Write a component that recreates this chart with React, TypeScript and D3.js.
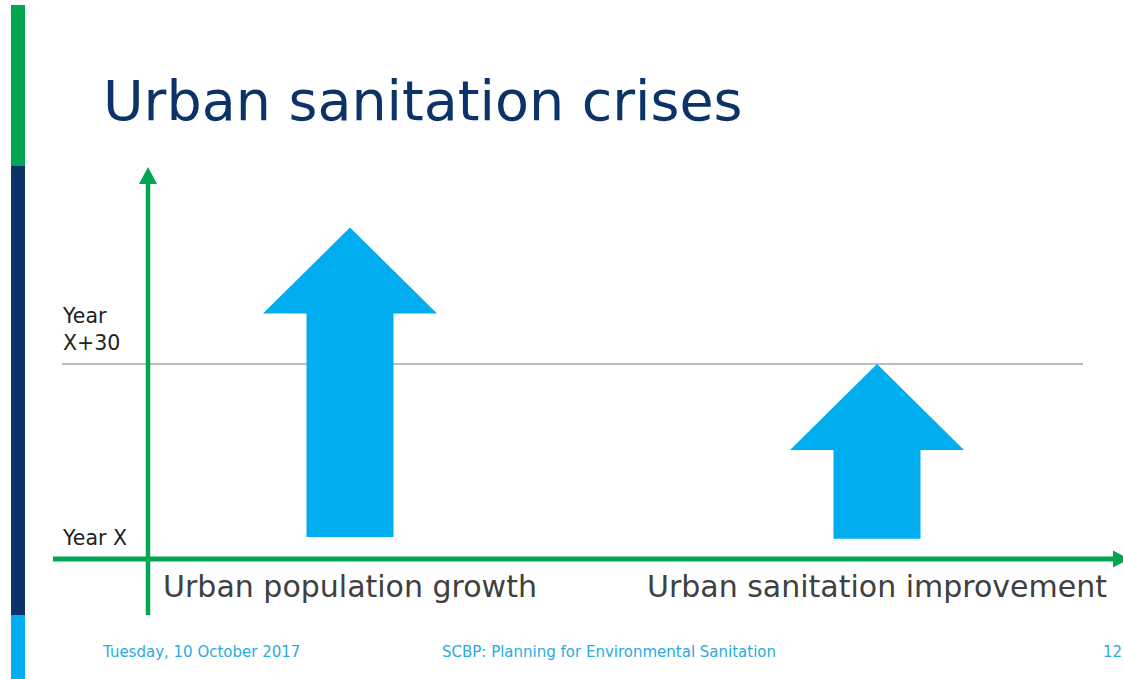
import React from "react";
import * as d3 from "d3";

// ---- data ----
const title = "Urban sanitation crises";
const categories = ["Urban population growth", "Urban sanitation improvement"];
const startValues = [3.4, 3.1]; // years after Year X where each arrow starts
const endValues = [51, 30]; // years after Year X where each arrow tip reaches
const yTickValues = [0, 30];
const yTickLabels = [["Year X"], ["Year", "X+30"]];
const footerLeft = "Tuesday, 10 October 2017";
const footerCenter = "SCBP: Planning for Environmental Sanitation";
const pageNumber = "12";

const W = 1123;
const H = 679;
const FONT = "'DejaVu Sans', Verdana, sans-serif";
const GREEN = "#00a651";
const NAVY = "#0b3368";
const BLUE = "#00aeef";

export default function App() {
  const y = d3.scaleLinear().domain([0, 30]).range([559, 364]);
  const x = d3.scalePoint<string>().domain(categories).range([350, 877]);

  const headH = 86;
  const headW = 174;
  const shaftW = 87;

  const arrowPath = (cx: number, yBottom: number, yTip: number) => {
    const p = d3.path();
    p.moveTo(cx - shaftW / 2, yBottom);
    p.lineTo(cx - shaftW / 2, yTip + headH);
    p.lineTo(cx - headW / 2, yTip + headH);
    p.lineTo(cx, yTip);
    p.lineTo(cx + headW / 2, yTip + headH);
    p.lineTo(cx + shaftW / 2, yTip + headH);
    p.lineTo(cx + shaftW / 2, yBottom);
    p.closePath();
    return p.toString();
  };

  const yAxisX = 148;
  const xAxisY = y(0);

  return (
    <svg
      width={W}
      height={H}
      style={{ position: "absolute", left: 0, top: 0, background: "#fff" }}
      fontFamily={FONT}
    >
      {/* left decorative bar */}
      <rect x={11} y={5} width={14} height={161} fill={GREEN} />
      <rect x={11} y={166} width={14} height={449} fill={NAVY} />
      <rect x={11} y={615} width={14} height={64} fill={BLUE} />

      {/* title */}
      <text x={103} y={120} fontSize={55.5} fill={NAVY}>
        {title}
      </text>

      {/* reference line */}
      <line x1={62} x2={1083} y1={y(30)} y2={y(30)} stroke="#7a7a7a" strokeWidth={1.2} />

      {/* arrows */}
      {categories.map((c, i) => (
        <path key={c} d={arrowPath(x(c)!, y(startValues[i]), y(endValues[i]))} fill={BLUE} />
      ))}

      {/* y axis */}
      <line x1={yAxisX} x2={yAxisX} y1={182} y2={615} stroke={GREEN} strokeWidth={4.5} />
      <path
        d={`M${yAxisX},167 L${yAxisX - 9},184 L${yAxisX + 9},184 Z`}
        fill={GREEN}
      />

      {/* x axis */}
      <line x1={53} x2={1115} y1={xAxisY} y2={xAxisY} stroke={GREEN} strokeWidth={5} />
      <path d={`M1129,${xAxisY} L1113,${xAxisY - 8.5} L1113,${xAxisY + 8.5} Z`} fill={GREEN} />

      {/* y tick labels */}
      {yTickValues.map((v, i) => {
        const lines = yTickLabels[i];
        return lines.map((l, j) => (
          <text
            key={`${v}-${j}`}
            x={63}
            y={y(v) - 14 - (lines.length - 1 - j) * 27}
            fontSize={20.5}
            fill="#222"
          >
            {l}
          </text>
        ));
      })}

      {/* category labels */}
      {categories.map((c) => (
        <text key={c} x={x(c)} y={597} fontSize={30} fill="#404040" textAnchor="middle">
          {c}
        </text>
      ))}

      {/* footer */}
      <text x={103} y={657} fontSize={15} fill="#29abe2">
        {footerLeft}
      </text>
      <text x={442} y={657} fontSize={15} fill="#29abe2">
        {footerCenter}
      </text>
      <text x={1122} y={657} fontSize={15} fill="#29abe2" textAnchor="end">
        {pageNumber}
      </text>
    </svg>
  );
}
